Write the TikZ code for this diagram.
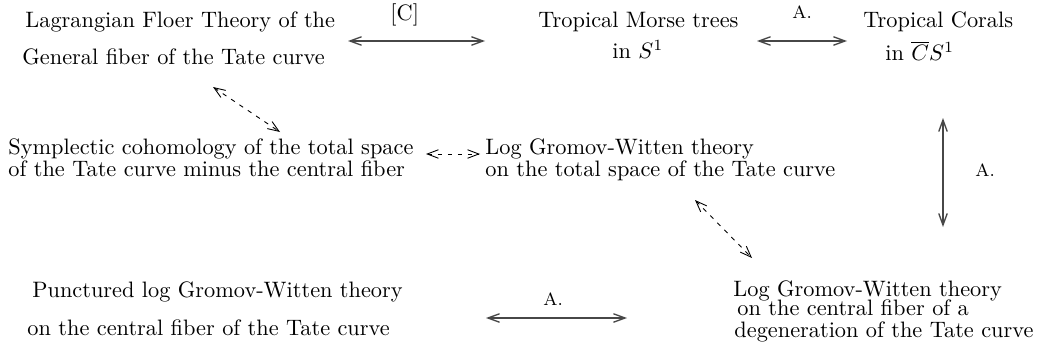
\documentclass[tikz,border=0pt]{standalone}
\usetikzlibrary{arrows.meta}
\begin{document}
\begin{tikzpicture}[x=0.448pt,y=-0.448pt,
  txt/.style={inner sep=0pt,anchor=base west,font=\normalsize},
  lbl/.style={inner sep=0pt,anchor=base west,font=\footnotesize},
  tip/.style={Straight Barb[length=5.2pt,width=3.8pt]},
  solidarrow/.style={{Straight Barb[length=5.2pt,width=3.8pt]}-{Straight Barb[length=5.2pt,width=3.8pt]},line width=0.6pt,draw=black!72},
  dasharrow/.style={{Straight Barb[length=5pt,width=3.8pt]}-{Straight Barb[length=5pt,width=3.8pt]},line width=0.4pt,dash pattern=on 2pt off 2.5pt}]
\useasboundingbox (0,0) rectangle (1046,351);
% texts
\node[txt] (lf1) at (25,27) {Lagrangian Floer Theory of the};
\node[txt] (lf2) at (22,65) {General fiber of the Tate curve};
\node[txt] (c) at (390,20) {[C]};
\node[txt] (tm1) at (538,27) {Tropical Morse trees};
\node[txt] (tm2) at (612,59) {in $S^1$};
\node[lbl] (a1) at (792,18) {A.};
\node[txt] (tc1) at (863,27) {Tropical Corals};
\node[txt] (tc2) at (885,61) {in $\overline{C}S^1$};
\node[txt] (sc1) at (8,154) {Symplectic cohomology of the total space};
\node[txt] (sc2) at (8,176) {of the Tate curve minus the central fiber};
\node[txt] (lg1) at (485,154) {Log Gromov-Witten theory};
\node[txt] (lg2) at (485,176) {on the total space of the Tate curve};
\node[lbl] (a2) at (975,176) {A.};
\node[txt] (lc1) at (733,296) {Log Gromov-Witten theory};
\node[txt] (lc2) at (737,315) {on the central fiber of a};
\node[txt] (lc3) at (734,337) {degeneration of the Tate curve};
\node[txt] (pl1) at (32,297) {Punctured log Gromov-Witten theory};
\node[txt] (pl2) at (27,335) {on the central fiber of the Tate curve};
\node[lbl] (a3) at (543,305) {A.};
% arrow end points
\coordinate (p1a) at (348,41); \coordinate (p1b) at (485,41);
\coordinate (p2a) at (757,41); \coordinate (p2b) at (847,41);
\coordinate (p3a) at (943,118); \coordinate (p3b) at (943,227);
\coordinate (p4a) at (486,318); \coordinate (p4b) at (627,318);
\coordinate (d1a) at (213,87); \coordinate (d1b) at (280,132);
\coordinate (d2a) at (426,154); \coordinate (d2b) at (480,154);
\coordinate (d3a) at (695,200); \coordinate (d3b) at (752,258);
\draw[solidarrow] (p1a) -- (p1b);
\draw[solidarrow] (p2a) -- (p2b);
\draw[solidarrow] (p3a) -- (p3b);
\draw[solidarrow] (p4a) -- (p4b);
\draw[dasharrow] (d1a) -- (d1b);
\draw[dasharrow] (d2a) -- (d2b);
\draw[dasharrow] (d3a) -- (d3b);
\end{tikzpicture}
\end{document}
